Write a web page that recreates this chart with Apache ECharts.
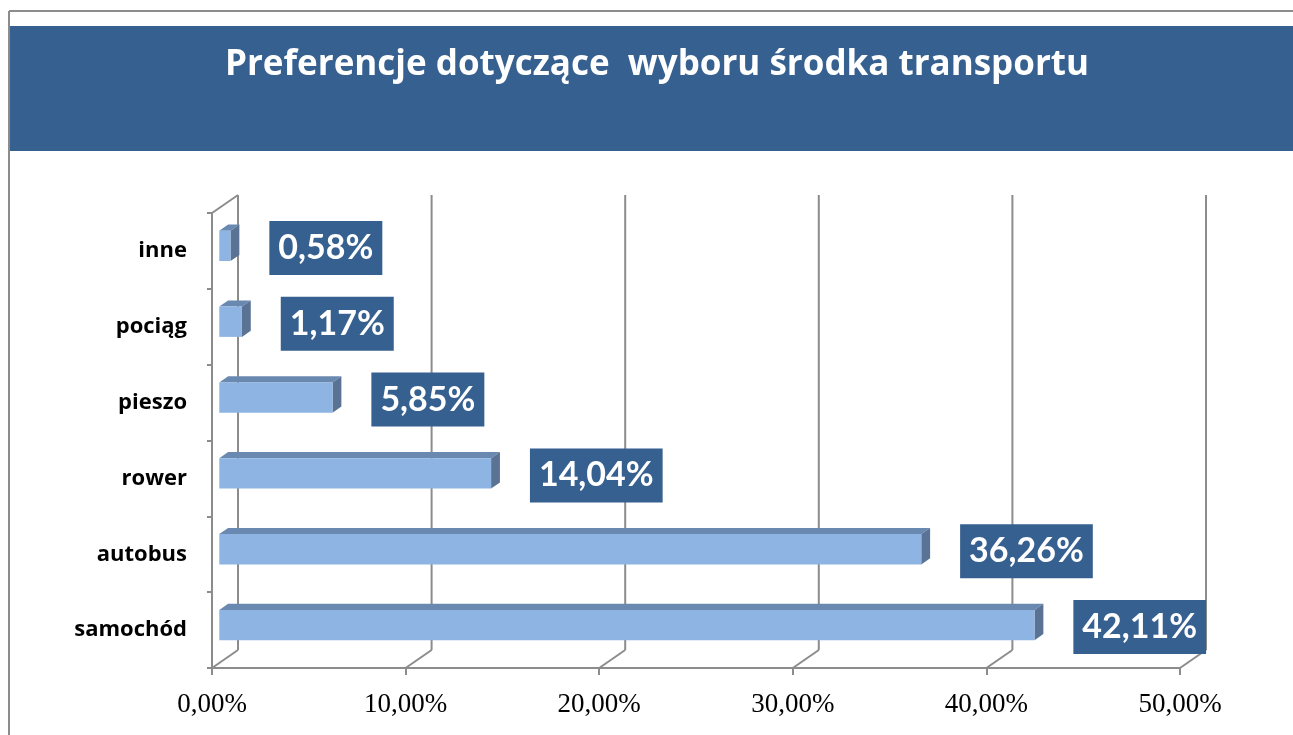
<!DOCTYPE html>
<html>
<head>
<meta charset="utf-8">
<script src="https://cdn.jsdelivr.net/npm/echarts@6/dist/echarts.min.js"></script>
<style>
html,body{margin:0;padding:0;background:#fff;}
#chart{width:1293px;height:735px;}
</style>
</head>
<body>
<div id="chart"></div>
<script>
// Preferencje dotyczące wyboru środka transportu

var categories = ['samochód', 'autobus', 'rower', 'pieszo', 'pociąg', 'inne'];
var values = [42.11, 36.26, 14.04, 5.85, 1.17, 0.58];
var ticks = [0, 10, 20, 30, 40, 50];

var COLOR = {
	BANNER: '#36608F',
	GRID: '#8C8C8C',
	FRONT: '#8DB4E2',
	TOP: '#6A89B1',
	SIDE: '#5A7394'
};

// glebokosc scian 3D (w px)
var DX = 26, DY = 18;
var F1 = 0.28, F2 = 0.62;   // zakres glebokosci slupka

function fmt(v){
	return v.toFixed(2).replace('.', ',') + '%';
}

function renderWalls(params, api){
	var cs = params.coordSys;
	var v = api.value(0);
	var x = api.coord([v, 0])[0];
	var top = cs.y, bottom = cs.y + cs.height;
	var style = {stroke: COLOR.GRID, lineWidth: 2};
	var children = [
		{type:'line', shape:{x1:x+DX, y1:top-DY, x2:x+DX, y2:bottom-DY}, style:style},
		{type:'line', shape:{x1:x, y1:bottom, x2:x+DX, y2:bottom-DY}, style:style}
	];
	if (params.dataIndex === 0) {
		children.push({type:'line', shape:{x1:x, y1:top, x2:x+DX, y2:top-DY}, style:style});
	}
	return {type:'group', children:children};
}

function renderBar(params, api){
	var idx = api.value(1);
	var val = api.value(0);
	var p0 = api.coord([0, idx]);
	var p1 = api.coord([val, idx]);
	var band = api.size([0, 1])[1];
	var h = band * 0.4;
	var x0 = p0[0] + F1 * DX, x1 = p1[0] + F1 * DX;
	var cy = p0[1] - F1 * DY;
	var yt = cy - h / 2, yb = cy + h / 2;
	var dx = (F2 - F1) * DX, dy = (F2 - F1) * DY;
	return {type:'group', children:[
		{type:'polygon', shape:{points:[[x0,yt],[x1,yt],[x1+dx,yt-dy],[x0+dx,yt-dy]]}, style:{fill:COLOR.TOP}},
		{type:'polygon', shape:{points:[[x1,yt],[x1+dx,yt-dy],[x1+dx,yb-dy],[x1,yb]]}, style:{fill:COLOR.SIDE}},
		{type:'rect', shape:{x:x0, y:yt, width:x1-x0, height:h}, style:{fill:COLOR.FRONT}},
		{type:'text', style:{
			text: fmt(val),
			x: x1 + dx + 30,
			y: cy + 2,
			align: 'left',
			verticalAlign: 'middle',
			fill: '#fff',
			font: 'bold 34px Lato',
			backgroundColor: COLOR.BANNER,
			padding: [11, 9, 9, 9]
		}}
	]};
}

var myChart = echarts.init(document.getElementById('chart'));
myChart.setOption({
	animation: false,
	backgroundColor: '#fff',
	graphic: [
		{type:'rect', shape:{x:9, y:26, width:1284, height:125}, style:{fill:COLOR.BANNER}},
		{type:'line', shape:{x1:9, y1:11, x2:1293, y2:11}, style:{stroke:COLOR.GRID, lineWidth:2}},
		{type:'line', shape:{x1:9, y1:11, x2:9, y2:735}, style:{stroke:COLOR.GRID, lineWidth:2}},
		{type:'text', x:657, y:65, style:{
			text:'Preferencje dotyczące  wyboru środka transportu',
			align:'center', verticalAlign:'middle',
			fill:'#fff', font:'bold 35px "Open Sans"'
		}}
	],
	grid: {
		left: 212,
		right: 113,
		top: 213,
		bottom: 67
	},
	xAxis: {
		type: 'value',
		min: 0,
		max: 50,
		interval: 10,
		axisLine: {show:true, lineStyle:{color:COLOR.GRID, width:2}},
		axisTick: {show:true, length:7, lineStyle:{color:COLOR.GRID, width:2}},
		splitLine: {show:false},
		axisLabel: {
			margin: 23,
			color: '#000',
			fontFamily: 'Liberation Serif',
			fontSize: 27,
			formatter: fmt
		}
	},
	yAxis: {
		type: 'category',
		data: categories,
		axisLine: {show:true, lineStyle:{color:COLOR.GRID, width:2}},
		axisTick: {show:true, length:5, lineStyle:{color:COLOR.GRID, width:2}},
		axisLabel: {
			margin: 25,
			color: '#000',
			fontFamily: 'Open Sans',
			fontWeight: 'bold',
			fontSize: 22
		}
	},
	series: [
		{
			type: 'custom',
			renderItem: renderWalls,
			clip: false,
			silent: true,
			encode: {x:0, y:1},
			data: ticks.map(function(t){ return [t, 0]; })
		},
		{
			type: 'custom',
			renderItem: renderBar,
			clip: false,
			encode: {x:0, y:1},
			data: values.map(function(v, i){ return [v, i]; })
		}
	]
});
</script>
</body>
</html>
